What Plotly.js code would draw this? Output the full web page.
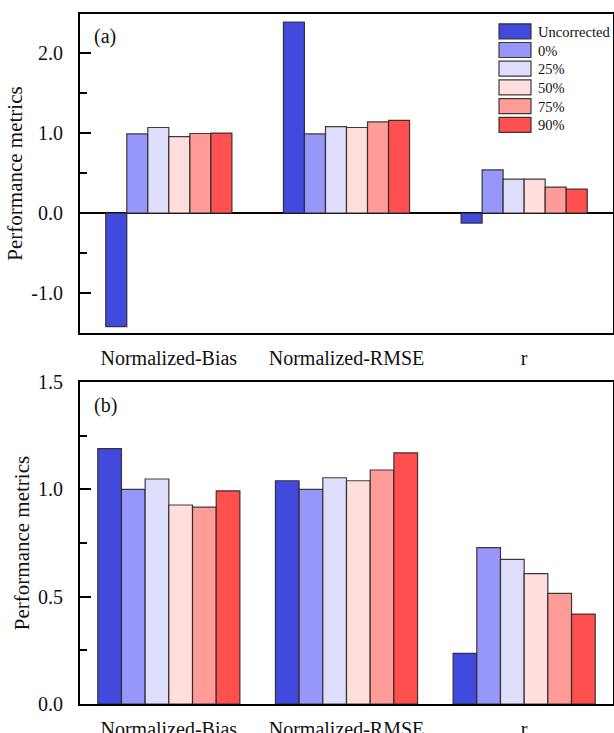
<!DOCTYPE html>
<html>
<head>
<meta charset="utf-8">
<script src="https://cdn.plot.ly/plotly-3.0.1.min.js"></script>
<style>
html,body{margin:0;padding:0;background:#fff;overflow:hidden;}
</style>
</head>
<body>
<div id="chart" style="position:relative;width:614px;height:733px;"></div>
<script>
// ---- data ----
const categories = ['Normalized-Bias', 'Normalized-RMSE', 'r'];
const seriesNames = ['Uncorrected', '0%', '25%', '50%', '75%', '90%'];

// panel (a)
const uncorrectedA = [-1.42, 2.39, -0.125];
const pct0A  = [0.99, 0.99, 0.54];
const pct25A = [1.07, 1.08, 0.425];
const pct50A = [0.955, 1.07, 0.425];
const pct75A = [0.995, 1.14, 0.325];
const pct90A = [1.0, 1.16, 0.30];

// panel (b)
const uncorrectedB = [1.19, 1.04, 0.236];
const pct0B  = [1.0, 1.0, 0.728];
const pct25B = [1.048, 1.054, 0.674];
const pct50B = [0.927, 1.04, 0.607];
const pct75B = [0.917, 1.09, 0.515];
const pct90B = [0.993, 1.17, 0.419];

const yTickValsA = [-1, 0, 1, 2];
const yTickTextA = ['-1.0', '0.0', '1.0', '2.0'];
const yTickValsB = [0, 0.5, 1.0, 1.5];
const yTickTextB = ['0.0', '0.5', '1.0', '1.5'];

// ---- styles ----
const colors = ['#414adc', '#9797fa', '#dedefc', '#ffdedd', '#ff9c97', '#ff4f4f'];
const FONT = 'Liberation Serif';

const seriesA = [uncorrectedA, pct0A, pct25A, pct50A, pct75A, pct90A];
const seriesB = [uncorrectedB, pct0B, pct25B, pct50B, pct75B, pct90B];

function makeTraces(series, xa, ya, groupWidth, showLegend) {
  const n = series.length;
  const w = groupWidth / n;
  return series.map((vals, i) => ({
    type: 'bar',
    name: seriesNames[i],
    x: categories,
    y: vals,
    xaxis: xa,
    yaxis: ya,
    width: w,
    offset: -groupWidth / 2 + i * w,
    marker: { color: colors[i], line: { color: 'rgba(40,40,40,0.9)', width: 1.2 } },
    showlegend: showLegend,
    hoverinfo: 'skip'
  }));
}

const data = makeTraces(seriesA, 'x', 'y', 0.71, true)
  .concat(makeTraces(seriesB, 'x2', 'y2', 0.80, false));

const axisCommon = {
  showline: true, mirror: true, linecolor: '#000', linewidth: 2,
  showgrid: false, zeroline: false
};

const yCommon = Object.assign({}, axisCommon, {
  ticks: 'inside', ticklen: 11, tickwidth: 2, tickcolor: '#000',
  ticklabelstandoff: 11,
  tickfont: { family: FONT, size: 20 },
  title: { text: 'Performance metrics', font: { family: FONT, size: 21 }, standoff: 3 }
});

const xCommon = Object.assign({}, axisCommon, {
  type: 'category', range: [-0.5, 2.5], ticks: '', ticklabelstandoff: 6,
  tickfont: { family: FONT, size: 20 }
});

const layout = {
  width: 614, height: 733,
  margin: { l: 80, r: 1, t: 14, b: 29, autoexpand: false },
  paper_bgcolor: '#fff', plot_bgcolor: '#fff',
  barmode: 'overlay',
  showlegend: true,
  font: { family: FONT, color: '#111' },
  xaxis: Object.assign({}, xCommon, { anchor: 'y', domain: [0, 1] }),
  xaxis2: Object.assign({}, xCommon, { anchor: 'y2', domain: [0, 1] }),
  yaxis: Object.assign({}, yCommon, {
    anchor: 'x', domain: [0.5377, 1], range: [-1.5, 2.49],
    tickvals: yTickValsA, ticktext: yTickTextA,
    zeroline: true, zerolinecolor: '#000', zerolinewidth: 1.6,
    minor: { ticks: 'inside', ticklen: 7, tickwidth: 2, tickcolor: '#000', dtick: 0.5, tick0: 0 }
  }),
  yaxis2: Object.assign({}, yCommon, {
    anchor: 'x2', domain: [0, 0.4667], range: [0, 1.5],
    tickvals: yTickValsB, ticktext: yTickTextB,
    minor: { ticks: 'inside', ticklen: 7, tickwidth: 2, tickcolor: '#000', dtick: 0.25, tick0: 0 }
  }),
  legend: {
    x: 0.773, xanchor: 'left', y: 0.998, yanchor: 'top',
    bgcolor: 'rgba(0,0,0,0)', borderwidth: 0,
    font: { family: FONT, size: 14.5 },
    itemwidth: 36, tracegroupgap: 0, traceorder: 'normal'
  },
  annotations: [
    { text: '(a)', xref: 'paper', yref: 'paper', x: 0.022, y: 0.967, xanchor: 'left', yanchor: 'middle',
      showarrow: false, font: { family: FONT, size: 20 } },
    { text: '(b)', xref: 'paper', yref: 'paper', x: 0.022, y: 0.433, xanchor: 'left', yanchor: 'middle',
      showarrow: false, font: { family: FONT, size: 20 } }
  ]
};

Plotly.newPlot('chart', data, layout, { displayModeBar: false }).then(function () {
  // enlarge legend swatches and tighten row spacing to look like the reference
  const items = document.querySelectorAll('.legend .traces');
  let firstY = null;
  items.forEach(function (g, i) {
    const m = /translate\(\s*([-\d.]+)[ ,]+([-\d.]+)\s*\)/.exec(g.getAttribute('transform') || '');
    if (m) {
      const x = parseFloat(m[1]);
      const y = parseFloat(m[2]);
      if (firstY === null) firstY = y;
      g.setAttribute('transform', 'translate(' + x + ',' + (firstY + i * 18.7) + ')');
    }
  });
  document.querySelectorAll('.legend .traces .legendpoints path').forEach(function (p) {
    p.setAttribute('d', 'M16,7.5H-16V-7.5H16Z');
  });
});
</script>
</body>
</html>
